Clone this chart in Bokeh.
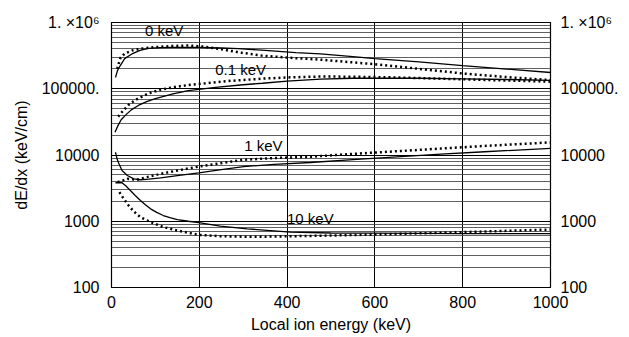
from bokeh.plotting import figure
from bokeh.models import FixedTicker, CustomJSTickFormatter, LogAxis, Range1d
from bokeh.embed import file_html
from bokeh.resources import INLINE
from bokeh.core.properties import value

# ---------------- data ----------------
e0_solid = [9, 14, 20, 30, 48, 65, 84, 110, 139, 170, 198, 250, 289, 350, 420, 476, 550, 600, 700, 800, 900, 1000]
v0_solid = [148000, 190000, 224000, 285000, 340000, 380000, 406000, 418000, 422000, 422000, 420000, 412000,
            403000, 380000, 352000, 335000, 305000, 285000, 255000, 224000, 198000, 176000]

e0_dot = [13, 20, 30, 48, 70, 100, 140, 175, 214, 250, 289, 344, 400, 476, 550, 600, 700, 800, 900, 1000]
v0_dot = [200000, 290000, 340000, 380000, 405000, 425000, 442000, 450000, 430000, 395000, 355000, 316000,
          295000, 275000, 250000, 235000, 200000, 170000, 150000, 135000]

e01_solid = [8, 15, 22, 32, 45, 61, 80, 100, 140, 175, 237, 300, 344, 400, 476, 550, 600, 700, 800, 900, 1000]
v01_solid = [22000, 28000, 34000, 40000, 48000, 56000, 64000, 71000, 84000, 94000, 105000, 115000, 121000,
             130000, 140000, 144000, 145000, 144000, 141000, 138000, 134000]

e01_dot = [15, 27, 40, 55, 84, 110, 139, 175, 214, 260, 344, 400, 476, 550, 650, 750, 850, 1000]
v01_dot = [38000, 47000, 58000, 68000, 85000, 96000, 105000, 114000, 121000, 130000, 142000, 148000,
           153000, 152000, 148000, 142000, 136000, 128000]

e1_solid = [9, 13, 17, 24, 36, 51, 66, 85, 112, 150, 199, 250, 301, 370, 453, 550, 650, 750, 850, 1000]
v1_solid = [11000, 8600, 7360, 5830, 4900, 4370, 4230, 4330, 4530, 4900, 5380, 6000, 6700, 7200, 7700,
            8500, 9400, 10300, 11200, 12600]

e1_dot = [14, 25, 36, 58, 81, 112, 150, 199, 248, 301, 370, 453, 550, 650, 750, 850, 1000]
v1_dot = [3900, 4100, 4370, 4230, 4630, 5200, 5830, 6700, 7520, 8460, 9000, 9400, 10400, 11400, 12500,
          13700, 15500]

e10_solid = [9, 24, 33, 43, 54, 66, 77, 89, 103, 118, 133, 150, 175, 199, 248, 309, 408, 500, 597, 700, 800, 900, 1000]
v10_solid = [3810, 3810, 3400, 2910, 2450, 2055, 1780, 1540, 1360, 1220, 1130, 1060, 1000, 950, 842, 769,
             684, 665, 660, 655, 652, 650, 650]

e10_dot = [18, 28, 39, 51, 66, 89, 119, 150, 198, 248, 300, 350, 453, 600, 800, 1000]
v10_dot = [2750, 2180, 1730, 1400, 1150, 970, 813, 725, 624, 594, 585, 585, 600, 630, 685, 750]

curve_labels = ["0 keV", "0.1 keV", "1 keV", "10 keV"]
label_x = [120, 294, 346, 453]
label_y = [757000, 195000, 13900, 1100]

x_ticks = [0, 200, 400, 600, 800, 1000]
y_ticks = [100, 1000, 10000, 100000, 1000000]
y_tick_labels = ["100", "1000", "10000", "100000.", "1. \u00d710\u2076"]
y_minor = [m * d for d in [100, 1000, 10000, 100000] for m in range(2, 10)]

FONT = "Liberation Sans"

# ---------------- figure ----------------
p = figure(width=629, height=337, y_axis_type="log", x_range=Range1d(0, 1000),
           y_range=Range1d(100, 1000000), output_backend="svg", toolbar_location=None,
           min_border_left=111, min_border_right=79, min_border_top=22, min_border_bottom=50)
p.background_fill_color = "white"
p.border_fill_color = "white"
p.outline_line_color = "black"
p.outline_line_width = 1.2

js_map = "{" + ",".join(f'"{t}":"{l}"' for t, l in zip(y_ticks, y_tick_labels)) + "}"
fmt = CustomJSTickFormatter(code=f"const m = {js_map}; const k = String(Math.round(tick)); return (k in m) ? m[k] : '';")

p.yaxis.ticker = FixedTicker(ticks=y_ticks, minor_ticks=y_minor)
p.yaxis.formatter = fmt
p.xaxis.ticker = FixedTicker(ticks=x_ticks)

right = LogAxis(ticker=FixedTicker(ticks=y_ticks, minor_ticks=y_minor), formatter=fmt)
p.add_layout(right, "right")

left = p.yaxis[0]
bottom = p.xaxis[0]
for ax in [bottom, left, right]:
    ax.major_label_text_font = FONT
    ax.major_label_text_font_size = "16px"
    ax.major_label_text_color = "black"
    ax.major_tick_out = 0
    ax.major_tick_in = 0
    ax.minor_tick_out = 0
    ax.minor_tick_in = 0
    ax.axis_line_color = "black"
    ax.axis_label_text_font = FONT
    ax.axis_label_text_font_style = "normal"
    ax.axis_label_text_color = "black"

bottom.major_label_standoff = 8
left.major_label_standoff = 12
right.major_label_standoff = 10
bottom.axis_label = "Local ion energy (keV)"
bottom.axis_label_text_font_size = "16px"
bottom.axis_label_standoff = 5
left.axis_label = "dE/dx (keV/cm)"
left.axis_label_text_font_size = "16px"
left.axis_label_standoff = 9
right.axis_label = None

p.xgrid.ticker = FixedTicker(ticks=x_ticks)
p.xgrid.grid_line_color = "black"
p.xgrid.grid_line_width = 1
p.ygrid.ticker = FixedTicker(ticks=y_ticks, minor_ticks=y_minor)
p.ygrid.grid_line_color = "black"
p.ygrid.grid_line_width = 1
p.ygrid.minor_grid_line_color = "#444444"
p.ygrid.minor_grid_line_width = 1
p.ygrid.minor_grid_line_alpha = 0.85

for xs, ys in [(e0_solid, v0_solid), (e01_solid, v01_solid), (e1_solid, v1_solid), (e10_solid, v10_solid)]:
    p.line(xs, ys, line_color="black", line_width=1.3)
for xs, ys in [(e0_dot, v0_dot), (e01_dot, v01_dot), (e1_dot, v1_dot), (e10_dot, v10_dot)]:
    p.line(xs, ys, line_color="black", line_width=2.5, line_dash="2 3")

p.text(x=label_x, y=label_y, text=curve_labels, text_font=value(FONT), text_font_size="15px",
       text_align="center", text_baseline="middle", text_color="black")

open("out.html", "w").write(file_html(p, INLINE))
